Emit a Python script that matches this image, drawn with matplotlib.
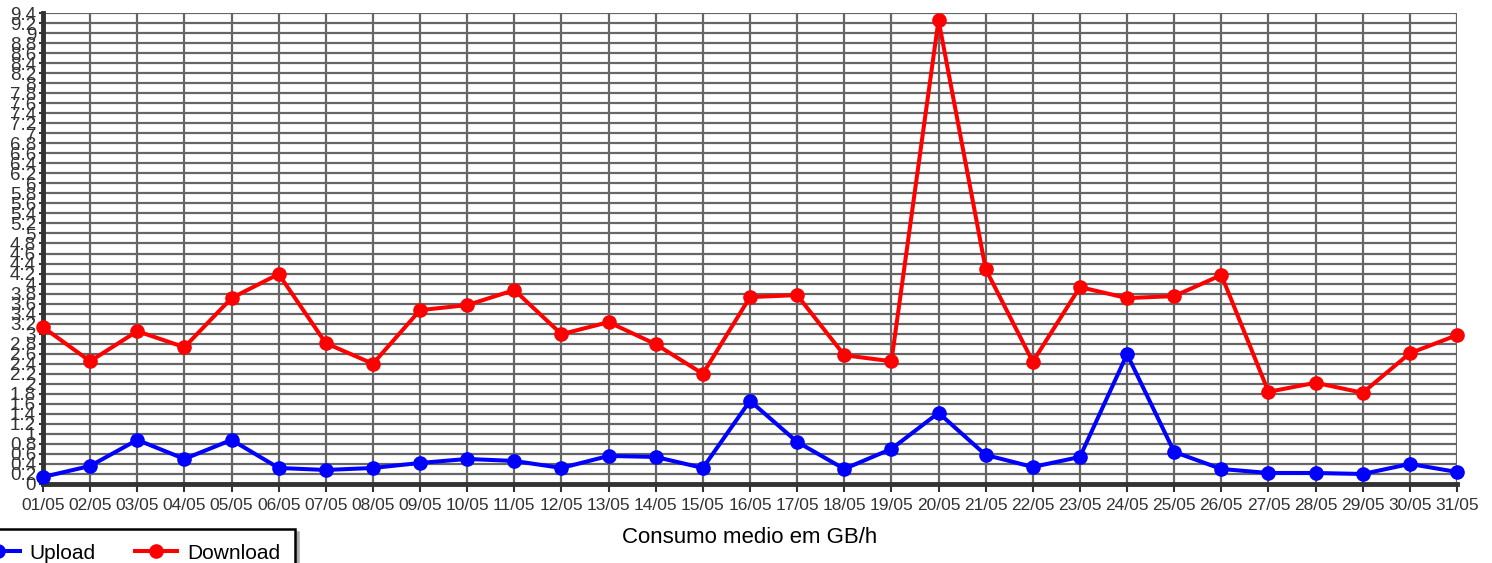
import numpy as np
import matplotlib
matplotlib.use("Agg")
import matplotlib.pyplot as plt

plt.rcParams["font.family"] = ["Liberation Sans", "DejaVu Sans"]

days = ["%02d/05" % d for d in range(1, 32)]
upload = [0.14, 0.36, 0.88, 0.50, 0.88, 0.32, 0.28, 0.32, 0.42, 0.50,
          0.46, 0.32, 0.56, 0.54, 0.32, 1.66, 0.84, 0.30, 0.70, 1.42,
          0.58, 0.34, 0.54, 2.59, 0.64, 0.30, 0.22, 0.22, 0.20, 0.40, 0.24]
download = [3.13, 2.45, 3.05, 2.73, 3.71, 4.19, 2.81, 2.40, 3.47, 3.57,
            3.87, 2.99, 3.23, 2.79, 2.20, 3.73, 3.77, 2.57, 2.45, 9.26,
            4.29, 2.44, 3.93, 3.71, 3.75, 4.17, 1.84, 2.02, 1.82, 2.61, 2.97]
yticks = np.round(np.arange(0, 9.41, 0.2), 1)

fig = plt.figure(figsize=(14.92, 5.63), dpi=100)
ax = fig.add_axes([43/1492, 79/563, (1457-43)/1492, (484-13)/563])

x = np.arange(len(days))
ax.plot(x, upload, color="#0000ff", lw=2.9, marker="o", ms=9.5, label="Upload",
        clip_on=False, zorder=3)
ax.plot(x, download, color="#ff0000", lw=2.9, marker="o", ms=9.5, label="Download",
        clip_on=False, zorder=3)

ax.set_xlim(0, len(days) - 1)
ax.set_ylim(0, 9.4)
ax.set_xticks(x)
ax.set_xticklabels(days, fontsize=12.5, color="#333333")
ax.set_yticks(yticks)
ax.set_yticklabels(["%g" % v for v in yticks], fontsize=13.5, color="#333333")
ax.tick_params(axis="x", length=6, width=1.5, color="#333333", pad=4)
ax.tick_params(axis="y", length=3, width=1.5, color="#333333", pad=2)

ax.grid(True, color="#666666", lw=1.6)
ax.set_axisbelow(True)
for s in ["top", "right"]:
    ax.spines[s].set_visible(False)
for s in ["left", "bottom"]:
    ax.spines[s].set_color("#333333")
    ax.spines[s].set_linewidth(3.5)
    ax.spines[s].set_capstyle("projecting")

ax.set_xlabel("Consumo medio em GB/h", fontsize=16, labelpad=10)

leg = fig.legend(loc="upper right", bbox_to_anchor=(295/1492, 1 - 529/563),
                 borderaxespad=0, ncol=2, fontsize=15, handlelength=2.05,
                 handletextpad=0.48, columnspacing=1.86, borderpad=0.7,
                 fancybox=False, shadow={"color": "#aaaaaa", "alpha": 1},
                 framealpha=1)
leg.get_frame().set_edgecolor("black")
leg.get_frame().set_linewidth(1.8)

fig.savefig("out.png", dpi=100)
